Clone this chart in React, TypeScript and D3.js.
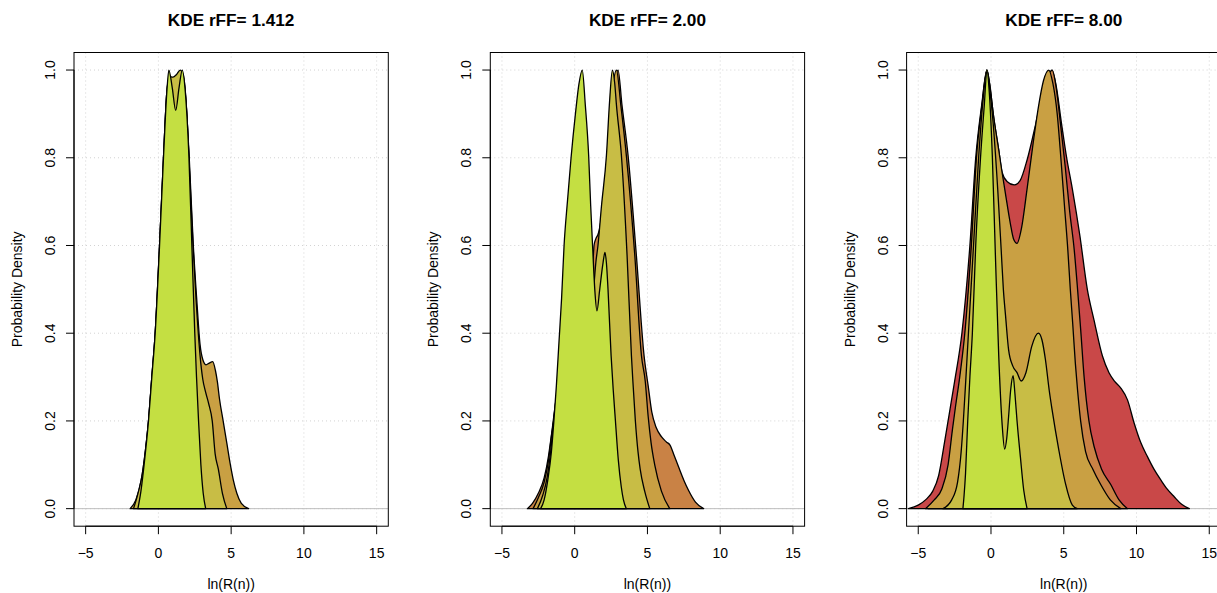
import React from 'react';
import * as d3 from 'd3';

type Pt = [number, number];

const TITLES = ['KDE rFF= 1.412', 'KDE rFF= 2.00', 'KDE rFF= 8.00'];
const X_TICKS = [-5, 0, 5, 10, 15];
const Y_TICKS = [0, 0.2, 0.4, 0.6, 0.8, 1.0];
const X_LABEL = 'ln(R(n))';
const Y_LABEL = 'Probability Density';

// Panel 1 (rFF = 1.412)
const P1_GOLD: Pt[] = [[-1.94,0],[-1.55,0.02],[-1.18,0.065],[-0.9,0.13],[-0.68,0.2],[-0.45,0.3],[-0.22,0.4],[0.08,0.6],[0.35,0.8],[0.58,0.95],[0.75,0.98],[1.0,0.978],[1.3,0.99],[1.5,0.995],[1.7,0.985],[1.9,0.925],[2.12,0.8],[2.4,0.6],[2.65,0.47],[2.86,0.375],[3.05,0.34],[3.27,0.328],[3.5,0.332],[3.73,0.335],[3.92,0.315],[4.05,0.29],[4.2,0.25],[4.45,0.2],[4.7,0.15],[4.93,0.103],[5.15,0.065],[5.39,0.035],[5.7,0.012],[6.2,0]];
const P1_OLIVE: Pt[] = [[-1.71,0],[-1.4,0.035],[-1.1,0.08],[-0.85,0.145],[-0.68,0.2],[-0.45,0.3],[-0.22,0.4],[0.08,0.6],[0.35,0.8],[0.58,0.95],[0.75,0.985],[1.0,0.984],[1.25,0.99],[1.5,1.0],[1.7,0.99],[1.9,0.93],[2.1,0.8],[2.38,0.6],[2.6,0.47],[2.7,0.42],[2.86,0.35],[3.05,0.295],[3.25,0.265],[3.45,0.24],[3.7,0.2],[3.9,0.125],[4.12,0.09],[4.4,0.035],[4.7,0]];
const P1_GREEN: Pt[] = [[-1.41,0],[-1.2,0.04],[-0.95,0.11],[-0.68,0.2],[-0.45,0.3],[-0.22,0.4],[0.08,0.6],[0.35,0.8],[0.58,0.95],[0.72,1.0],[0.95,0.96],[1.19,0.908],[1.42,0.96],[1.64,1.0],[1.85,0.95],[2.1,0.8],[2.3,0.6],[2.5,0.4],[2.62,0.3],[2.76,0.2],[2.92,0.1],[3.08,0.035],[3.25,0]];

// Panel 2 (rFF = 2.00)
const P2_ORANGE: Pt[] = [[-3.25,0],[-2.9,0.012],[-2.5,0.035],[-2.1,0.07],[-1.8,0.12],[-1.55,0.18],[-1.4,0.22],[-1.0,0.31],[0.0,0.42],[0.8,0.5],[1.15,0.53],[1.26,0.565],[1.33,0.6],[1.45,0.615],[1.6,0.625],[1.75,0.645],[1.9,0.685],[2.2,0.79],[2.5,0.94],[2.7,0.97],[2.98,1.0],[3.25,0.92],[3.67,0.805],[4.24,0.577],[4.77,0.348],[5.05,0.28],[5.3,0.22],[5.6,0.185],[5.96,0.164],[6.3,0.152],[6.55,0.145],[6.85,0.12],[7.13,0.096],[7.5,0.065],[7.82,0.042],[8.3,0.015],[8.86,0]];
const P2_GOLD: Pt[] = [[-2.86,0],[-2.5,0.025],[-2.1,0.06],[-1.8,0.11],[-1.58,0.17],[-1.4,0.21],[-1.0,0.3],[0.0,0.38],[1.0,0.42],[1.5,0.5],[1.75,0.6],[2.0,0.7],[2.3,0.82],[2.6,0.955],[2.87,1.0],[3.17,0.92],[3.55,0.805],[4.13,0.577],[4.59,0.348],[4.85,0.29],[5.05,0.21],[5.25,0.15],[5.5,0.1],[5.96,0.04],[6.53,0]];
const P2_OLIVE: Pt[] = [[-2.56,0],[-2.2,0.03],[-1.9,0.07],[-1.62,0.14],[-1.45,0.2],[-1.2,0.27],[-0.9,0.34],[-0.3,0.4],[0.3,0.43],[0.8,0.44],[1.1,0.45],[1.25,0.48],[1.35,0.52],[1.45,0.56],[1.6,0.6],[1.84,0.69],[2.18,0.805],[2.4,0.93],[2.59,1.0],[2.75,0.97],[2.87,0.92],[3.21,0.805],[3.6,0.577],[3.9,0.348],[4.0,0.29],[4.17,0.2],[4.35,0.13],[4.5,0.09],[4.81,0.04],[5.16,0]];
const P2_GREEN: Pt[] = [[-2.34,0],[-2.1,0.02],[-1.85,0.065],[-1.6,0.13],[-1.43,0.2],[-1.26,0.28],[-1.08,0.38],[-0.9,0.48],[-0.73,0.6],[-0.5,0.7],[-0.25,0.8],[0.05,0.9],[0.3,0.97],[0.52,1.0],[0.73,0.92],[0.96,0.805],[1.1,0.69],[1.26,0.577],[1.38,0.5],[1.53,0.451],[1.72,0.5],[1.95,0.561],[2.08,0.584],[2.18,0.56],[2.29,0.5],[2.5,0.35],[2.65,0.27],[2.8,0.2],[3.0,0.11],[3.2,0.05],[3.35,0.02],[3.55,0]];

// Panel 3 (rFF = 8.00)
const P3_RED: Pt[] = [[-5.68,0],[-5.0,0.008],[-4.5,0.02],[-4.0,0.04],[-3.6,0.075],[-3.2,0.15],[-2.9,0.21],[-2.5,0.29],[-2.0,0.4],[-1.45,0.6],[-1.05,0.8],[-0.64,0.92],[-0.28,1.0],[-0.1,0.97],[0.18,0.894],[0.53,0.818],[0.76,0.767],[1.1,0.746],[1.6,0.738],[2.0,0.748],[2.48,0.795],[3.06,0.875],[3.5,0.94],[3.86,0.98],[4.2,1.0],[4.5,0.96],[4.83,0.882],[5.2,0.8],[5.59,0.729],[6.11,0.622],[6.62,0.5],[7.08,0.43],[7.66,0.348],[8.11,0.31],[8.5,0.29],[8.92,0.275],[9.38,0.248],[9.83,0.196],[10.3,0.15],[10.76,0.118],[11.2,0.09],[11.68,0.065],[12.1,0.045],[12.59,0.027],[13.1,0.01],[13.63,0]];
const P3_ORANGE: Pt[] = [[-4.3,0],[-3.8,0.02],[-3.3,0.045],[-2.9,0.1],[-2.6,0.18],[-2.4,0.23],[-2.1,0.3],[-1.76,0.4],[-1.32,0.6],[-0.98,0.8],[-0.6,0.92],[-0.28,0.99],[-0.1,0.96],[0.18,0.885],[0.53,0.808],[0.76,0.755],[0.99,0.705],[1.33,0.632],[1.6,0.59],[1.85,0.585],[2.1,0.62],[2.48,0.71],[2.94,0.825],[3.28,0.9],[3.6,0.96],[3.97,0.99],[4.2,1.0],[4.5,0.955],[4.8,0.87],[5.1,0.78],[5.4,0.68],[5.72,0.59],[5.95,0.5],[6.16,0.41],[6.4,0.3],[6.73,0.2],[7.1,0.14],[7.6,0.09],[8.23,0.055],[8.8,0.02],[9.38,0]];
const P3_GOLD: Pt[] = [[-4.5,0],[-3.9,0.02],[-3.38,0.045],[-2.95,0.1],[-2.65,0.18],[-2.45,0.23],[-2.15,0.3],[-1.8,0.4],[-1.35,0.6],[-1.0,0.8],[-0.62,0.92],[-0.28,1.0],[-0.1,0.97],[0.18,0.894],[0.53,0.818],[0.76,0.767],[0.99,0.719],[1.33,0.65],[1.55,0.615],[1.79,0.605],[2.1,0.64],[2.48,0.729],[2.94,0.844],[3.28,0.92],[3.6,0.975],[3.97,1.0],[4.25,0.97],[4.55,0.9],[4.8,0.8],[5.05,0.69],[5.28,0.59],[5.45,0.5],[5.62,0.42],[5.8,0.33],[5.95,0.27],[6.16,0.2],[6.5,0.13],[7.0,0.09],[7.54,0.055],[8.2,0.02],[8.92,0]];
const P3_OLIVE: Pt[] = [[-3.3,0],[-2.7,0.02],[-2.3,0.06],[-2.05,0.13],[-1.9,0.2],[-1.72,0.3],[-1.55,0.4],[-1.2,0.6],[-0.85,0.8],[-0.55,0.93],[-0.28,1.0],[-0.1,0.96],[0.14,0.882],[0.46,0.729],[0.7,0.59],[0.85,0.5],[1.0,0.44],[1.21,0.362],[1.5,0.325],[1.79,0.31],[2.07,0.291],[2.4,0.31],[2.8,0.37],[3.26,0.4],[3.5,0.385],[3.74,0.34],[4.0,0.27],[4.2,0.225],[4.66,0.134],[5.12,0.057],[5.59,0.008],[5.93,0]];
const P3_GREEN: Pt[] = [[-1.93,0],[-1.85,0.03],[-1.75,0.08],[-1.6,0.2],[-1.45,0.3],[-1.28,0.4],[-1.05,0.6],[-0.72,0.8],[-0.46,0.92],[-0.28,1.0],[-0.12,0.95],[0.09,0.805],[0.3,0.58],[0.53,0.35],[0.76,0.195],[0.94,0.136],[1.08,0.16],[1.21,0.21],[1.35,0.27],[1.52,0.303],[1.65,0.26],[1.79,0.2],[2.02,0.118],[2.25,0.042],[2.48,0]];

const COLORS: Record<string, string> = {
  red: '#C94848',
  orange: '#C98245',
  gold: '#C9A043',
  olive: '#C8BD45',
  green: '#C4DF42',
};

// drawn in order: outermost first
const PANELS: { title: string; series: { key: string; data: Pt[] }[] }[] = [
  { title: TITLES[0], series: [
    { key: 'gold', data: P1_GOLD },
    { key: 'olive', data: P1_OLIVE },
    { key: 'green', data: P1_GREEN },
  ] },
  { title: TITLES[1], series: [
    { key: 'orange', data: P2_ORANGE },
    { key: 'gold', data: P2_GOLD },
    { key: 'olive', data: P2_OLIVE },
    { key: 'green', data: P2_GREEN },
  ] },
  { title: TITLES[2], series: [
    { key: 'red', data: P3_RED },
    { key: 'orange', data: P3_ORANGE },
    { key: 'gold', data: P3_GOLD },
    { key: 'olive', data: P3_OLIVE },
    { key: 'green', data: P3_GREEN },
  ] },
];

const W = 1217;
const H = 593;
const PANEL_W = 416.3;
const BOX_L = 74;
const BOX_W = 314.3;
const BOX_T = 52.5;
const BOX_B = 526.2;
const FONT = '"Liberation Sans", Arial, Helvetica, sans-serif';

function Panel({ index, title, series }: { index: number; title: string; series: { key: string; data: Pt[] }[] }) {
  const ox = index * PANEL_W;
  const left = ox + BOX_L;
  const right = left + BOX_W;
  const x = d3.scaleLinear().domain([-5.8, 15.8]).range([left, right]);
  const y = d3.scaleLinear().domain([-0.04, 1.04]).range([BOX_B, BOX_T]);
  const area = d3
    .area<Pt>()
    .x((d) => x(d[0]))
    .y0(y(0))
    .y1((d) => y(d[1]))
    .curve(d3.curveMonotoneX);
  const clipId = `clip-${index}`;
  const cx = (left + right) / 2;
  const cy = (BOX_T + BOX_B) / 2;
  return (
    <g>
      <defs>
        <clipPath id={clipId}>
          <rect x={left} y={BOX_T} width={BOX_W} height={BOX_B - BOX_T} />
        </clipPath>
      </defs>
      <g clipPath={`url(#${clipId})`}>
        {X_TICKS.map((t) => (
          <line key={`gx${t}`} x1={x(t)} x2={x(t)} y1={BOX_T} y2={BOX_B} stroke="#d3d3d3" strokeWidth={1} strokeDasharray="1 3" />
        ))}
        {Y_TICKS.map((t) => (
          <line key={`gy${t}`} x1={left} x2={right} y1={y(t)} y2={y(t)} stroke="#d3d3d3" strokeWidth={1} strokeDasharray="1 3" />
        ))}
        <line x1={left} x2={right} y1={y(0)} y2={y(0)} stroke="#bebebe" strokeWidth={1} />
        {series.map((s) => (
          <path key={s.key} d={area(s.data) || ''} fill={COLORS[s.key]} stroke="#000" strokeWidth={1.3} strokeLinejoin="round" />
        ))}
      </g>
      <rect x={left} y={BOX_T} width={BOX_W} height={BOX_B - BOX_T} fill="none" stroke="#000" strokeWidth={1} />
      {/* x axis */}
      <line x1={x(X_TICKS[0])} x2={x(X_TICKS[X_TICKS.length - 1])} y1={BOX_B} y2={BOX_B} stroke="#000" strokeWidth={1} />
      {X_TICKS.map((t) => (
        <g key={`xt${t}`}>
          <line x1={x(t)} x2={x(t)} y1={BOX_B} y2={BOX_B + 8} stroke="#000" strokeWidth={1} />
          <text x={x(t)} y={557.5} textAnchor="middle" fontSize={14} fontFamily={FONT} fill="#000">
            {t < 0 ? `\u2212${Math.abs(t)}` : String(t)}
          </text>
        </g>
      ))}
      {/* y axis */}
      <line x1={left} x2={left} y1={y(Y_TICKS[0])} y2={y(Y_TICKS[Y_TICKS.length - 1])} stroke="#000" strokeWidth={1} />
      {Y_TICKS.map((t) => (
        <g key={`yt${t}`}>
          <line x1={left} x2={left - 8} y1={y(t)} y2={y(t)} stroke="#000" strokeWidth={1} />
          <text transform={`translate(${ox + 55},${y(t)}) rotate(-90)`} textAnchor="middle" fontSize={14} fontFamily={FONT} fill="#000">
            {t.toFixed(1)}
          </text>
        </g>
      ))}
      <text x={cx} y={25.8} textAnchor="middle" fontSize={17.2} fontWeight="bold" fontFamily={FONT} fill="#000">
        {title}
      </text>
      <text x={cx} y={588.5} textAnchor="middle" fontSize={14} fontFamily={FONT} fill="#000">
        {X_LABEL}
      </text>
      <text transform={`translate(${ox + 22},${cy}) rotate(-90)`} textAnchor="middle" fontSize={14} fontFamily={FONT} fill="#000">
        {Y_LABEL}
      </text>
    </g>
  );
}

export default function App() {
  return (
    <div style={{ position: 'absolute', left: 0, top: 0 }}>
      <svg width={W} height={H} style={{ display: 'block', background: '#fff' }}>
        <rect x={0} y={0} width={W} height={H} fill="#fff" />
        {PANELS.map((p, i) => (
          <Panel key={i} index={i} title={p.title} series={p.series} />
        ))}
      </svg>
    </div>
  );
}
